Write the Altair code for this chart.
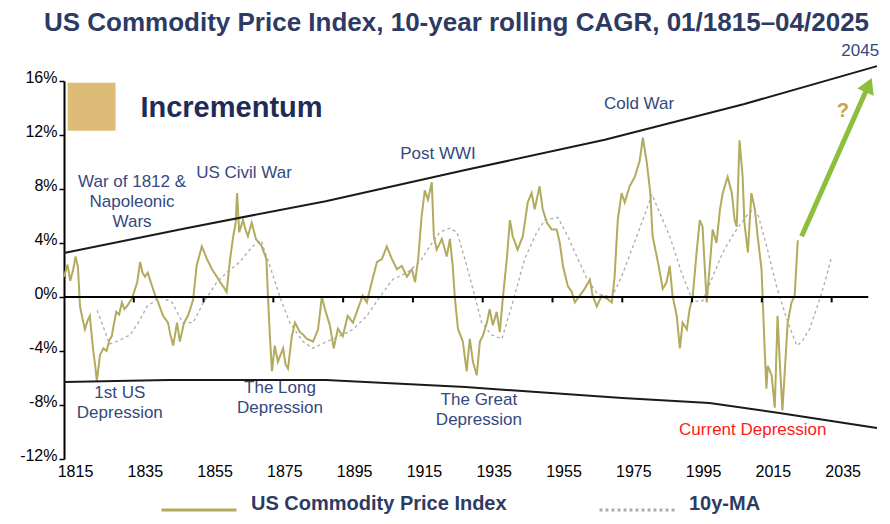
import altair as alt
import pandas as pd

# ---------------- data ----------------
IDX_YEARS = [1815.0, 1816.0, 1816.8, 1817.6, 1818.3, 1819.0, 1819.6, 1820.3, 1821.0, 1821.7,
             1822.4, 1823.3, 1824.0, 1824.4, 1825.0, 1825.3, 1826.3, 1827.2, 1828.0, 1828.7,
             1829.3, 1830.0, 1830.8, 1831.6, 1832.3, 1833.0, 1834.5, 1836.0, 1836.8, 1837.5,
             1838.2, 1839.0, 1840.5, 1841.3, 1842.0, 1843.4, 1844.8, 1845.5, 1846.3, 1847.4,
             1848.2, 1849.4, 1850.5, 1851.3, 1852.0, 1853.0, 1854.5, 1856.0, 1857.4, 1858.8,
             1860.0, 1860.6, 1861.6, 1862.6, 1863.5, 1864.2, 1864.6, 1865.2, 1866.3, 1867.0,
             1867.7, 1868.8, 1870.0, 1871.6, 1873.0, 1873.5, 1874.0, 1874.6, 1875.4, 1876.3,
             1877.8, 1878.5, 1879.2, 1880.3, 1881.2, 1882.6, 1883.6, 1884.6, 1886.4, 1887.8,
             1888.9, 1889.8, 1891.2, 1892.3, 1893.5, 1894.9, 1896.3, 1897.8, 1899.2, 1900.6,
             1901.8, 1903.2, 1904.7, 1906.1, 1907.5, 1909.0, 1910.4, 1911.8, 1913.3, 1914.7,
             1915.6, 1916.5, 1917.5, 1918.4, 1919.3, 1920.4, 1921.0, 1921.8, 1923.3, 1924.7,
             1925.6, 1926.4, 1927.0, 1927.9, 1929.3, 1930.4, 1931.3, 1932.2, 1933.3, 1934.2,
             1935.0, 1936.2, 1937.0, 1937.9, 1939.0, 1939.9, 1940.8, 1941.9, 1942.8, 1943.6,
             1945.0, 1946.5, 1947.9, 1949.0, 1949.9, 1951.3, 1952.2, 1953.4, 1954.8, 1956.2,
             1957.1, 1958.0, 1959.4, 1960.5, 1961.4, 1962.8, 1964.2, 1965.7, 1966.5, 1967.7,
             1969.1, 1970.5, 1972.0, 1972.8, 1973.7, 1974.8, 1975.7, 1977.1, 1978.6, 1980.0,
             1980.9, 1982.0, 1983.0, 1983.7, 1985.2, 1986.6, 1987.7, 1988.6, 1989.4, 1990.6,
             1991.5, 1992.3, 1993.5, 1994.3, 1995.2, 1996.3, 1997.2, 1998.0, 1999.2, 2000.0,
             2000.9, 2002.0, 2003.0, 2003.8, 2005.2, 2006.4, 2007.2, 2007.8, 2008.6, 2009.5,
             2010.0, 2011.0, 2012.0, 2013.0, 2013.8, 2014.9, 2015.8, 2016.3, 2016.7, 2017.8,
             2018.7, 2019.5, 2020.1, 2020.9, 2021.5, 2022.4, 2023.5, 2024.4, 2025.3]
IDX_VALUES = [1.5, 2.4, 1.2, 2.0, 3.0, 2.2, -0.7, -1.6, -2.4, -1.8,
              -1.4, -3.8, -5.2, -6.2, -5.0, -4.3, -3.8, -4.0, -3.2, -2.9,
              -2.0, -1.1, -1.3, -0.4, -0.9, -0.7, -0.1, 1.1, 2.6, 1.8,
              1.5, 1.8, 0.6, 0.0, -0.4, -1.4, -1.9, -2.8, -3.6, -1.9,
              -3.3, -1.9, -1.4, -0.8, -0.2, 2.3, 3.75, 2.8, 2.06, 1.5,
              1.0, 0.8, 0.37, 2.8, 4.5, 5.5, 7.7, 4.8, 5.7, 5.0,
              4.5, 5.5, 4.3, 3.8, 2.8, -0.2, -2.9, -5.5, -3.6, -4.8,
              -3.8, -5.0, -5.3, -2.9, -1.9, -2.6, -2.8, -3.1, -3.3, -2.4,
              0.0, -0.9, -2.1, -3.8, -2.35, -2.9, -1.4, -1.9, -0.9, 0.1,
              -0.4, 1.1, 2.6, 2.8, 3.75, 2.8, 2.06, 2.3, 1.5, 2.06,
              1.1, 2.8, 6.0, 7.9, 7.2, 8.5, 4.5, 3.5, 4.3, 3.0,
              4.3, 2.3, 0.0, -2.35, -3.3, -5.5, -3.1, -4.8, -5.8, -3.3,
              -2.9, -1.9, -0.9, -2.1, -1.1, -2.6, 0.0, 2.8, 5.7, 4.5,
              3.5, 4.5, 7.0, 7.7, 6.5, 8.2, 6.5, 5.5, 5.0, 5.0,
              4.0, 2.3, 0.8, 0.4, -0.4, 0.1, 0.6, 1.3, 0.1, -0.7,
              0.1, -0.1, -0.4, 1.5, 5.7, 7.7, 7.0, 8.2, 8.9, 10.1,
              11.8, 10.0, 7.8, 4.5, 2.6, 0.6, 1.1, 2.3, 0.1, -1.4,
              -3.8, -1.9, -2.4, -0.9, 0.1, 3.3, 5.7, 5.2, -0.4, 2.06,
              5.0, 4.0, 6.5, 7.7, 8.9, 7.7, 5.7, 5.2, 11.6, 8.9,
              5.5, 3.3, 7.7, 6.5, 4.5, 2.06, -3.8, -6.8, -5.1, -5.8,
              -8.2, -1.4, -4.6, -8.4, -5.8, -1.9, -0.4, 0.1, 4.2]

MA_YEARS = [1824.5, 1826.0, 1828.0, 1831.0, 1834.0, 1836.5, 1838.8, 1842.6, 1846.0, 1849.0,
            1852.0, 1855.0, 1858.8, 1861.6, 1865.4, 1869.0, 1871.5, 1874.0, 1876.9, 1879.7,
            1883.5, 1886.3, 1890.3, 1894.0, 1897.8, 1901.8, 1905.5, 1909.2, 1913.3, 1917.0,
            1919.8, 1922.7, 1925.6, 1927.6, 1929.9, 1932.7, 1934.7, 1937.5, 1940.5, 1943.6,
            1947.0, 1950.5, 1952.8, 1956.5, 1959.4, 1962.3, 1965.0, 1968.0, 1972.0, 1974.8,
            1977.7, 1980.6, 1983.5, 1988.6, 1992.0, 1995.2, 1998.0, 2000.9, 2003.8, 2007.2,
            2010.6, 2012.5, 2014.0, 2016.4, 2019.2, 2022.1, 2025.0, 2026.5, 2028.7, 2031.6,
            2033.5, 2035.0]
MA_VALUES = [-1.0, -2.0, -3.5, -3.2, -2.8, -1.8, -0.7, 0.0, -0.4, -1.9,
             -1.9, -0.4, 1.1, 1.8, 2.6, 3.75, 4.2, 2.3, 0.0, -1.9,
             -3.3, -3.8, -3.3, -2.9, -2.4, -1.4, 0.0, 1.3, 1.8, 2.6,
             3.75, 4.8, 5.1, 4.8, 2.8, 0.1, -1.9, -2.8, -3.1, -0.4,
             2.8, 4.8, 5.7, 5.9, 4.5, 2.8, 1.3, 0.2, 0.0, 1.5,
             3.5, 5.5, 7.6, 4.5, 1.8, -0.3, -0.3, 1.5, 3.3, 4.8,
             6.0, 6.5, 6.0, 3.75, 0.8, -1.6, -3.6, -3.3, -2.35, -0.15,
             1.5, 3.0]

UPPER_YEARS = [1815, 1850, 1890, 1930, 1970, 2010, 2048]
UPPER_VALUES = [3.26, 5.1, 7.1, 9.4, 11.65, 14.3, 17.1]
LOWER_YEARS = [1815, 1845, 1890, 1930, 1975, 2000, 2020, 2048]
LOWER_VALUES = [-6.3, -6.15, -6.15, -6.67, -7.48, -7.85, -8.59, -9.7]

ARROW_YEARS = [2026.4, 2045.6]
ARROW_VALUES = [4.5, 15.7]

X_TICKS = [1815, 1835, 1855, 1875, 1895, 1915, 1935, 1955, 1975, 1995, 2015, 2035]
Y_TICKS = [-12, -8, -4, 0, 4, 8, 12, 16]
ZERO_LINE_END = 2045.5
SERIES = ["US Commodity Price Index", "10y-MA"]

NOTE_LABELS = ["War of 1812 &\nNapoleonic\nWars", "US Civil War", "Post WWI", "Cold War",
               "1st US\nDepression", "The Long\nDepression", "The Great\nDepression"]
NOTE_YEARS = [1834.5, 1866.6, 1922.2, 1979.8, 1831.0, 1876.9, 1933.9]
NOTE_VALUES = [8.5, 9.2, 10.6, 14.3, -7.1, -6.75, -7.65]

RED_LABEL = ["Current Depression"]
RED_YEAR = [2012.4]
RED_VALUE = [-9.85]

END_LABEL = ["2045"]
END_YEAR = [2048.6]
END_VALUE = [18.2]

Q_LABEL = ["?"]
Q_YEAR = [2038.2]
Q_VALUE = [13.8]

LOGO_LABEL = ["Incrementum"]
LOGO_YEAR = [1863.0]
LOGO_VALUE = [14.0]
LOGO_MARK_YEAR = [1822.9]
LOGO_MARK_VALUE = [14.1]

# ---------------- styling ----------------
FONT = "Liberation Sans, Arial, sans-serif"
NAVY = "#2D3B64"
NOTE_BLUE = "#34497E"
OLIVE = "#B2AA5C"
MA_GRAY = "#ABABAB"
GREEN = "#8DBE3C"
GOLD = "#C9A24E"

X_SCALE = alt.Scale(domain=[1815, 2048], nice=False, zero=False)
Y_SCALE = alt.Scale(domain=[-12, 16], nice=False, zero=False)

x_axis = alt.Axis(values=X_TICKS, format="d", domain=False, ticks=False, grid=False, title=None,
                  labelFont=FONT, labelFontSize=16, labelColor="black", labelPadding=4,
                  labelOffset=11, labelFlush=False)
y_axis = alt.Axis(values=Y_TICKS, labelExpr="datum.value + '%'", grid=False, title=None,
                  domainColor="black", domainWidth=2, tickColor="black", tickWidth=1.5,
                  tickSize=5, labelPadding=2, labelFont=FONT, labelFontSize=16,
                  labelColor="black", labelBaseline="alphabetic", labelOffset=1)

X_ENC = alt.X("year:Q", scale=X_SCALE, axis=x_axis)
Y_ENC = alt.Y("value:Q", scale=Y_SCALE, axis=y_axis)

df_idx = pd.DataFrame({"year": IDX_YEARS, "value": IDX_VALUES, "series": SERIES[0]})
df_ma = pd.DataFrame({"year": MA_YEARS, "value": MA_VALUES, "series": SERIES[1]})

legend = alt.Legend(
    title=None, orient="none", legendX=96, legendY=390, direction="horizontal",
    symbolType="stroke", symbolSize=5625, symbolStrokeWidth=3,
    labelFont=FONT, labelFontSize=20, labelFontWeight="bold", labelColor=NAVY,
    labelLimit=400, labelOffset=13, columnPadding=86, padding=0,
    labelBaseline="alphabetic",
)
color = alt.Color("series:N", scale=alt.Scale(domain=SERIES, range=[OLIVE, MA_GRAY]), legend=legend)
dash = alt.StrokeDash("series:N", scale=alt.Scale(domain=SERIES, range=[[1, 0], [3, 3]]), legend=legend)

idx_line = alt.Chart(df_idx).mark_line(strokeWidth=2).encode(
    x=X_ENC, y=Y_ENC, color=color, strokeDash=dash)
ma_line = alt.Chart(df_ma).mark_line(strokeWidth=1.3).encode(
    x=X_ENC, y=Y_ENC, color=color, strokeDash=dash)

upper = alt.Chart(pd.DataFrame({"year": UPPER_YEARS, "value": UPPER_VALUES})).mark_line(
    color="#1a1a1a", strokeWidth=2).encode(x=X_ENC, y=Y_ENC)
lower = alt.Chart(pd.DataFrame({"year": LOWER_YEARS, "value": LOWER_VALUES})).mark_line(
    color="#1a1a1a", strokeWidth=2).encode(x=X_ENC, y=Y_ENC)

zero_line = alt.Chart(pd.DataFrame({"year": [X_TICKS[0]], "year2": [ZERO_LINE_END], "value": [0]})).mark_rule(
    color="black", strokeWidth=2).encode(x=X_ENC, x2=alt.X2("year2:Q"), y=Y_ENC)
zero_ticks = alt.Chart(pd.DataFrame({"year": X_TICKS[1:], "value": 0, "value2": -0.4})).mark_rule(
    color="black", strokeWidth=2).encode(x=X_ENC, y=Y_ENC, y2=alt.Y2("value2:Q"))

arrow_line = alt.Chart(pd.DataFrame({"year": ARROW_YEARS, "value": ARROW_VALUES})).mark_line(
    color=GREEN, strokeWidth=5).encode(x=X_ENC, y=Y_ENC)
arrow_head = alt.Chart(pd.DataFrame({"year": ARROW_YEARS[-1:], "value": ARROW_VALUES[-1:]})).mark_point(
    shape="triangle-up", filled=True, size=320, angle=24, color=GREEN, opacity=1).encode(
    x=X_ENC, y=Y_ENC)


def text_layer(labels, years, values, **kw):
    return alt.Chart(pd.DataFrame({"label": labels, "year": years, "value": values})).mark_text(
        font=FONT, lineBreak="\n", **kw).encode(x=X_ENC, y=Y_ENC, text="label:N")


notes = text_layer(NOTE_LABELS, NOTE_YEARS, NOTE_VALUES, fontSize=17, color=NOTE_BLUE,
                   lineHeight=20, align="center", baseline="middle")
red_note = text_layer(RED_LABEL, RED_YEAR, RED_VALUE, fontSize=17, color="#FF1A1A",
                      align="center", baseline="middle")
end_note = text_layer(END_LABEL, END_YEAR, END_VALUE, fontSize=17, color=NOTE_BLUE,
                      align="right", baseline="middle")
q_note = text_layer(Q_LABEL, Q_YEAR, Q_VALUE, fontSize=20, fontWeight="bold", color=GOLD,
                    align="center", baseline="middle")
logo_text = text_layer(LOGO_LABEL, LOGO_YEAR, LOGO_VALUE, fontSize=29, fontWeight="bold",
                       color="#1F2C58", align="center", baseline="middle")
logo_mark = alt.Chart(pd.DataFrame({"year": LOGO_MARK_YEAR, "value": LOGO_MARK_VALUE})).mark_square(
    size=2300, color="#D6B05E", opacity=0.85).encode(x=X_ENC, y=Y_ENC)

chart = alt.layer(
    idx_line, ma_line, logo_mark, logo_text, upper, lower, zero_line, zero_ticks,
    arrow_line, arrow_head, notes, red_note, end_note, q_note,
).resolve_scale(color="shared", strokeDash="shared").properties(
    width=813, height=378,
    autosize=alt.AutoSizeParams(type="none"),
    padding={"left": 56, "top": 73, "right": 5, "bottom": 57},
    background="white",
    title=alt.TitleParams(
        "US Commodity Price Index, 10-year rolling CAGR, 01/1815\u201304/2025",
        font=FONT, fontSize=26, fontWeight="bold", color=NAVY, anchor="middle",
        frame="group", offset=6, dx=-14,
    ),
).configure_view(stroke=None)

chart.save("out.html", embed_options={"renderer": "svg", "actions": False})
